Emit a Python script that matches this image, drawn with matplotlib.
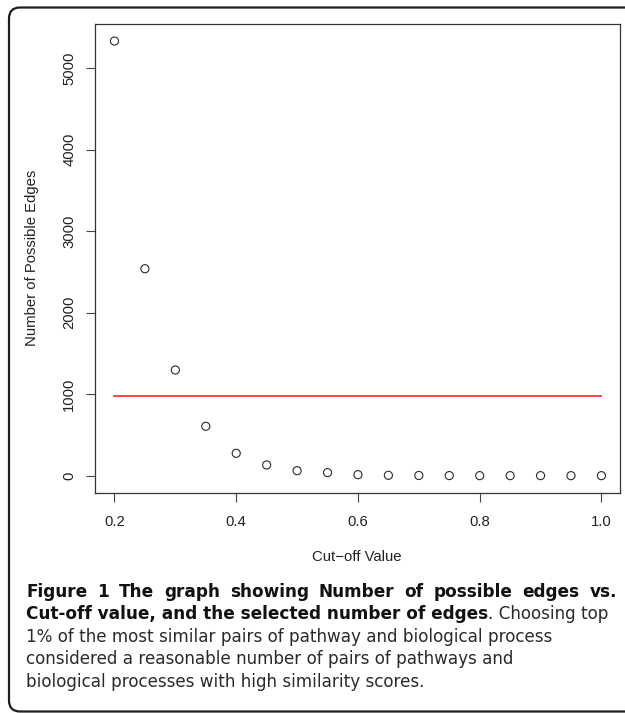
import matplotlib
matplotlib.use("Agg")
import matplotlib.pyplot as plt
from matplotlib.patches import FancyBboxPatch

# ---- data ----
cutoff = [0.20, 0.25, 0.30, 0.35, 0.40, 0.45, 0.50, 0.55, 0.60,
          0.65, 0.70, 0.75, 0.80, 0.85, 0.90, 0.95, 1.00]
edges = [5335, 2540, 1297, 606, 274, 131, 61, 37, 12,
         4, 2, 1, 0, 0, 0, 0, 0]
selected_edges = 980
x_ticks = [0.2, 0.4, 0.6, 0.8, 1.0]
x_tick_labels = ["0.2", "0.4", "0.6", "0.8", "1.0"]
y_ticks = [0, 1000, 2000, 3000, 4000, 5000]
y_tick_labels = ["0", "1000", "2000", "3000", "4000", "5000"]
x_label = "Cut\u2212off Value"
y_label = "Number of Possible Edges"
caption_lines = [
    ("Figure 1 The graph showing Number of possible edges vs.", ""),
    ("Cut-off value, and the selected number of edges", ". Choosing top"),
    ("", "1% of the most similar pairs of pathway and biological process"),
    ("", "considered a reasonable number of pairs of pathways and"),
    ("", "biological processes with high similarity scores."),
]

W, H = 625, 713
fig = plt.figure(figsize=(W / 100, H / 100), dpi=100)
fig.patch.set_facecolor("white")

# overlay in pixel coordinates for frame and caption
ov = fig.add_axes([0, 0, 1, 1])
ov.set_xlim(0, W)
ov.set_ylim(H, 0)
ov.axis("off")
ov.patch.set_alpha(0)

frame = FancyBboxPatch((9, 7.5), 650, 704, boxstyle="round,pad=0,rounding_size=11",
                       fill=False, edgecolor="#1e1e1e", linewidth=1.6)
ov.add_patch(frame)

cap_font = "DejaVu Sans"
bold_size = 12.2
reg_size = 12.1
baselines = [596.7, 619.2, 641.7, 664.2, 686.7]
text_left = 26
justify_right = 617
fig.canvas.draw()
renderer = fig.canvas.get_renderer()
inv = ov.transData.inverted()


def width_px(t):
    bb = t.get_window_extent(renderer=renderer)
    return inv.transform((bb.x1, 0))[0] - inv.transform((bb.x0, 0))[0]


bold_kw = dict(fontfamily=cap_font, fontweight="bold", fontsize=bold_size,
               color="#111111", va="baseline", ha="left")
reg_kw = dict(fontfamily=cap_font, fontweight="normal", fontsize=reg_size,
              color="#2a2a2a", va="baseline", ha="left")

for i, ((bold, reg), yb) in enumerate(zip(caption_lines, baselines)):
    x = text_left
    if i == 0:
        # justified first line: spread the words across the full width
        words = bold.split(" ")
        arts = [ov.text(0, yb, w, **bold_kw) for w in words]
        widths = [width_px(a) for a in arts]
        gap = (justify_right - text_left - sum(widths)) / (len(words) - 1)
        for a, w in zip(arts, widths):
            a.set_x(x)
            x += w + gap
        continue
    if bold:
        t = ov.text(x, yb, bold, **bold_kw)
        x = x + width_px(t)
    if reg:
        ov.text(x, yb, reg, **reg_kw)

# ---- main plot ----
left, right, top, bottom = 95, 620.3, 23.7, 493
ax = fig.add_axes([left / W, 1 - bottom / H, (right - left) / W, (bottom - top) / H])
ax.scatter(cutoff, edges, s=34, facecolors="none", edgecolors="#2a2a2a",
           linewidths=0.8, zorder=3)
ax.plot([cutoff[0], cutoff[-1]], [selected_edges, selected_edges],
        color="#ff2020", linewidth=1.2, zorder=2)

ax.set_xlim(0.168, 1.031)
ax.set_ylim(-213, 5548)
ax.set_xticks(x_ticks)
ax.set_xticklabels(x_tick_labels)
ax.set_yticks(y_ticks)
ax.set_yticklabels(y_tick_labels, rotation=90, va="center")

tfont = "Liberation Sans"
for lab in ax.get_xticklabels() + ax.get_yticklabels():
    lab.set_fontfamily(tfont)
    lab.set_fontsize(10.7)
    lab.set_color("#222222")

ax.tick_params(axis="both", length=6.5, width=0.8, color="#444444")
ax.tick_params(axis="x", pad=9.5)
ax.tick_params(axis="y", pad=7.0)
for sp in ax.spines.values():
    sp.set_linewidth(0.9)
    sp.set_color("#333333")

ax.set_xlabel(x_label, fontfamily=tfont, fontsize=10.7, color="#222222", va="center")
ax.xaxis.set_label_coords(0.4988, (bottom - 557.3) / (bottom - top))
ax.set_ylabel(y_label, fontfamily=tfont, fontsize=10.7, color="#222222", va="center")
ax.yaxis.set_label_coords((32 - left) / (right - left), 0.5)

fig.savefig("out.png", dpi=100)
